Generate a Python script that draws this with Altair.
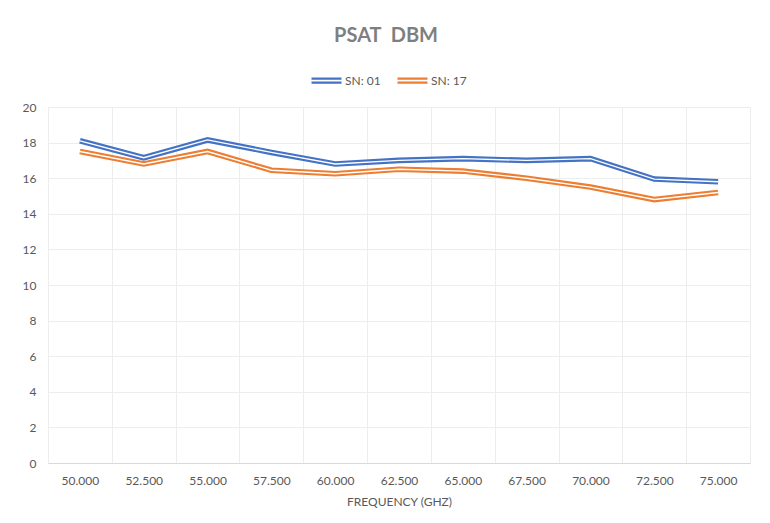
import altair as alt
import pandas as pd

freq = ["50.000", "52.500", "55.000", "57.500", "60.000", "62.500",
        "65.000", "67.500", "70.000", "72.500", "75.000"]
sn01 = [18.1, 17.15, 18.15, 17.45, 16.8, 17.0, 17.1, 17.0, 17.1, 15.95, 15.8]
sn17 = [17.5, 16.8, 17.5, 16.45, 16.25, 16.5, 16.4, 16.0, 15.5, 14.8, 15.2]
series = ["SN: 01", "SN: 17"]
colors = ["#4472C4", "#ED7D31"]

rows = []
for name, vals in zip(series, [sn01, sn17]):
    for f, v in zip(freq, vals):
        rows.append({"freq": f, "value": v, "series": name})
df = pd.DataFrame(rows)

FONT = "Lato"
GRAY = "#595959"

x = alt.X("freq:N", sort=freq, bandPosition=0.5,
          scale=alt.Scale(type="band", paddingInner=0, paddingOuter=0),
          axis=alt.Axis(title="FREQUENCY (GHZ)", labelAngle=0, tickBand="extent",
                        ticks=False, domainColor="#d9d9d9", grid=True,
                        gridColor="#ededed", labelPadding=12, labelFontSize=12,
                        labelColor=GRAY, titleFontSize=12, titleFontWeight="normal",
                        titleColor=GRAY, titlePadding=10, labelFont=FONT, titleFont=FONT))
y = alt.Y("value:Q", scale=alt.Scale(domain=[0, 20]),
          axis=alt.Axis(title=None, values=list(range(0, 21, 2)), ticks=False,
                        domain=False, gridColor="#ededed", labelPadding=12,
                        labelFontSize=12, labelColor=GRAY, labelFont=FONT))

outer = alt.Chart(df).mark_line(strokeWidth=5.6, strokeJoin="miter").encode(
    x=x, y=y,
    color=alt.Color("series:N", scale=alt.Scale(domain=series, range=colors),
                    legend=alt.Legend(title=None, orient="none", direction="horizontal",
                                      legendX=262, legendY=-43,
                                      symbolType="M-1,-0.13H1M-1,0.13H1",
                                      symbolSize=900, symbolStrokeWidth=2.2,
                                      labelFontSize=12, labelColor=GRAY, labelFont=FONT,
                                      columnPadding=12, labelOffset=2)))
inner = alt.Chart(df).mark_line(strokeWidth=1.4, color="white", strokeJoin="miter").encode(
    x=x, y=y, detail="series:N")

chart = alt.layer(outer, inner).properties(
    width=702, height=356,
    title=alt.TitleParams("PSAT\u00a0\u00a0DBM", fontSize=20, fontWeight="bold", color="#7f7f7f",
                          font=FONT, anchor="middle", frame="bounds", offset=18),
    autosize=alt.AutoSizeParams(type="none"),
    padding={"left": 40, "top": 99, "right": 12, "bottom": 52},
).configure_view(stroke=None)

chart.save("out.html", embed_options={"renderer": "svg", "actions": False})
